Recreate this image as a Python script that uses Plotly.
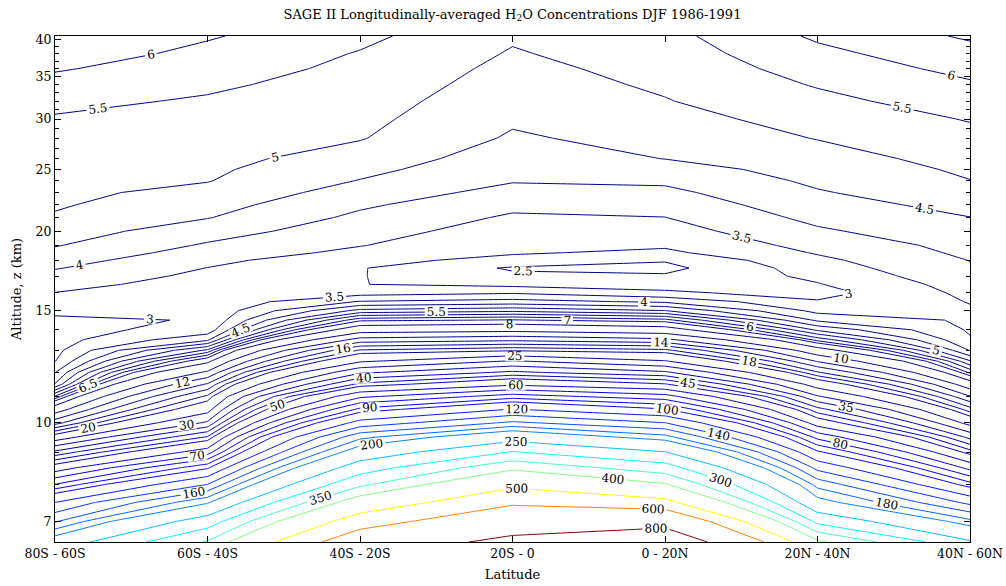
import math
import plotly.graph_objects as go

# Latitude bands (x) and retrieval altitudes (y, km)
lat_bands = ["80S - 60S", "60S - 40S", "40S - 20S", "20S - 0", "0 - 20N", "20N - 40N", "40N - 60N"]

altitude_km = [6.5, 7, 7.5, 8, 8.5, 9, 9.5, 10, 10.5, 11, 11.5, 12, 12.5, 13, 13.5, 14,
               14.5, 15, 15.5, 16, 16.5, 17, 17.5, 18, 18.5, 19, 20, 21, 22, 23, 24, 25,
               26, 28, 30, 32, 34, 36, 38, 40.5]

# Zonal-mean H2O mixing ratio (ppmv) per latitude band, bottom to top
h2o_80s_60s = [218, 158, 120, 80.5, 54, 36, 21.6, 13.1, 8.8, 6.05, 4.03, 3.48, 2.98, 2.85,
               2.80, 2.82, 2.90, 3.12, 3.30, 3.49, 3.67, 3.85, 4.03, 4.20, 4.38, 4.53, 4.74,
               4.95, 5.05, 5.10, 5.16, 5.21, 5.26, 5.36, 5.46, 5.61, 5.83, 6.05, 6.26, 6.5]
h2o_60s_40s = [355, 274, 196, 140.5, 97.9, 64.8, 45.5, 30.8, 23.0, 18.4, 14.2, 10.3, 7.6, 5.6,
               3.9, 3.2, 3.033, 3.08, 3.13, 3.2, 3.28, 3.38, 3.49, 3.63, 3.79, 3.94, 4.22,
               4.52, 4.69, 4.87, 5.02, 5.08, 5.14, 5.25, 5.35, 5.45, 5.58, 5.72, 5.87, 6.05]
h2o_40s_20s = [682, 550, 435, 340, 275, 218, 174, 127, 92.4, 67.9, 46.2, 34.1, 24.3, 18.2,
               12.75, 8.94, 6.83, 5.16, 4.03, 3.3, 3.01, 3.02, 3.03, 3.15, 3.38, 3.52, 3.71,
               3.89, 4.08, 4.28, 4.48, 4.64, 4.79, 5.03, 5.13, 5.22, 5.31, 5.39, 5.47, 5.62]
h2o_20s_0 = [847, 700, 582, 480, 388, 302, 228.6, 163.8, 121, 84.9, 57.8, 41, 30.4, 19.5,
             13.5, 9.3, 7.05, 5.37, 4.19, 3.45, 2.85, 2.6, 2.44, 2.85, 3.05, 3.12, 3.26,
             3.43, 3.62, 3.84, 4.035, 4.13, 4.24, 4.44, 4.57, 4.68, 4.78, 4.87, 4.96, 5.06]
h2o_0_20n = [950, 731.6, 525, 405.6, 321.5, 251, 186.6, 140.5, 101, 73.8, 50.5, 35.9, 25.3,
             18.5, 12.47, 8.62, 6.66, 5.02, 3.91, 3.09, 2.79, 2.56, 2.36, 2.54, 2.90, 3.07,
             3.28, 3.49, 3.69, 3.88, 4.09, 4.30, 4.51, 4.67, 4.82, 4.975, 5.075, 5.16, 5.25, 5.35]
h2o_20n_40n = [410, 286, 210.5, 172.5, 134, 101.8, 76.5, 54.8, 41.6, 30.5, 22.5, 16.2, 11.8,
               8.6, 6.3, 4.9, 3.9, 3.35, 3.05, 2.8, 2.97, 3.11, 3.25, 3.39, 3.54, 3.66, 3.93,
               4.13, 4.30, 4.46, 4.59, 4.69, 4.80, 5.02, 5.20, 5.37, 5.54, 5.71, 5.87, 6.08]
h2o_40n_60n = [255, 185.6, 134.5, 93.9, 66.7, 47, 33.4, 23.2, 16.8, 12.1, 8.7, 6.37, 5.05,
               3.97, 3.55, 3.44, 3.42, 3.45, 3.52, 3.63, 3.72, 3.85, 3.95, 4.01, 4.10, 4.17,
               4.33, 4.49, 4.66, 4.82, 4.99, 5.08, 5.18, 5.36, 5.53, 5.74, 5.94, 6.14, 6.33, 6.57]

# Contour levels (ppmv), grouped into evenly spaced runs
level_groups = [
    [2.5, 3, 3.5, 4, 4.5, 5, 5.5, 6, 6.5, 7],
    [8, 10, 12, 14, 16, 18, 20],
    [25, 30, 35, 40, 45, 50],
    [60, 70, 80, 90, 100],
    [120, 140, 160, 180, 200],
    [250, 300, 350, 400],
    [500, 600],
    [800],
]

y_ticks = [7, 10, 15, 20, 25, 30, 35, 40]
color_max = 800.0


def jet(t):
    """Classic jet colormap, t in [0, 1]."""
    t = min(max(t, 0.0), 1.0)
    r = min(max(1.5 - abs(4 * t - 3), 0.0), 1.0)
    g = min(max(1.5 - abs(4 * t - 2), 0.0), 1.0)
    b = min(max(1.5 - abs(4 * t - 1), 0.0), 1.0)
    return "rgb(%d,%d,%d)" % (round(r * 255), round(g * 255), round(b * 255))


columns = [h2o_80s_60s, h2o_60s_40s, h2o_40s_20s, h2o_20s_0, h2o_0_20n, h2o_20n_40n, h2o_40n_60n]
z = [[col[i] for col in columns] for i in range(len(altitude_km))]
x_pos = list(range(len(lat_bands)))

serif = "DejaVu Serif"
fig = go.Figure()
for group in level_groups:
    start, end = group[0], group[-1]
    step = group[1] - group[0] if len(group) > 1 else 1
    if len(group) > 1:
        scale = [[(lev - start) / (end - start), jet(lev / color_max)] for lev in group]
    else:
        c = jet(start / color_max)
        scale = [[0, c], [1, c]]
    fig.add_trace(go.Contour(
        x=x_pos, y=altitude_km, z=z,
        autocontour=False,
        contours=dict(start=start, end=end, size=step, coloring="lines", showlabels=True,
                      labelfont=dict(family=serif, size=12, color="black")),
        colorscale=scale,
        line=dict(width=1, smoothing=0),
        showscale=False, hoverinfo="skip",
    ))

minor_vals = [v for v in range(7, 41) if v not in y_ticks]

fig.update_layout(
    width=1006, height=586,
    margin=dict(l=55, r=36, t=36, b=44, autoexpand=False),
    paper_bgcolor="white", plot_bgcolor="white",
    showlegend=False,
    font=dict(family=serif, size=12.5, color="black"),
    title=dict(text="SAGE II Longitudinally-averaged H<sub>2</sub>O Concentrations DJF 1986-1991",
               x=0.5, xref="paper", xanchor="center",
               y=1 - 14 / 586, yref="container", yanchor="middle",
               font=dict(family=serif, size=13, color="black")),
    xaxis=dict(range=[0, 6], tickmode="array", tickvals=x_pos, ticktext=lat_bands,
               ticks="inside", ticklen=6, tickcolor="black",
               showline=True, linecolor="black", linewidth=1, mirror="ticks",
               showgrid=False, zeroline=False, automargin=False,
               title=dict(text="Latitude", font=dict(family=serif, size=13), standoff=9)),
    yaxis=dict(type="log", range=[math.log10(6.5), math.log10(40.5)],
               tickmode="array", tickvals=y_ticks, ticktext=[str(v) for v in y_ticks],
               ticks="inside", ticklen=6, tickcolor="black",
               minor=dict(tickmode="array", tickvals=minor_vals, ticks="inside", ticklen=4,
                          tickcolor="black", showgrid=False),
               showline=True, linecolor="black", linewidth=1, mirror="ticks",
               showgrid=False, zeroline=False, automargin=False,
               title=dict(text="Altitude, z (km)", font=dict(family=serif, size=13), standoff=11)),
)

fig.write_html("out.html")
